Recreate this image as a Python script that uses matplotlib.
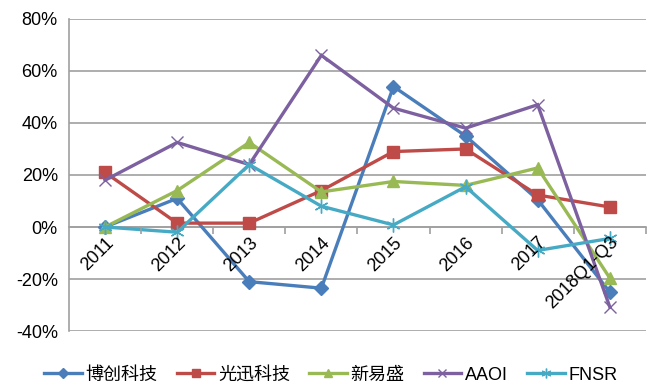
import matplotlib
matplotlib.use('Agg')
import matplotlib.pyplot as plt
from matplotlib.ticker import FixedLocator, FuncFormatter

plt.rcParams['font.family'] = ['Liberation Sans', 'Noto Sans CJK SC', 'DejaVu Sans']

categories = ['2011', '2012', '2013', '2014', '2015', '2016', '2017', '2018Q1-Q3']
bochuang = [0.0, 11.0, -21.0, -23.5, 54.0, 35.0, 10.5, -25.0]
guangxun = [21.0, 1.5, 1.5, 14.0, 29.0, 30.0, 12.3, 7.7]
xinyisheng = [0.0, 14.0, 32.5, 13.5, 17.5, 16.0, 22.7, -19.6]
aaoi = [18.0, 32.5, 24.0, 66.0, 45.7, 38.0, 47.0, -30.7]
fnsr = [0.0, -2.0, 24.0, 8.0, 0.8, 15.5, -9.0, -4.4]
yticks = [-40, -20, 0, 20, 40, 60, 80]

series = [
    ('博创科技', bochuang, '#4A7EBB', 'D', 7),
    ('光迅科技', guangxun, '#BE4B48', 's', 8.5),
    ('新易盛', xinyisheng, '#98B954', '^', 9),
    ('AAOI', aaoi, '#7D60A0', 'x', 9),
    ('FNSR', fnsr, '#46AAC5', (6, 2, 0), 10),
]

fig = plt.figure(figsize=(6.57, 3.85), dpi=100)
ax = fig.add_axes([0.105, 0.140, 0.878, 0.811])

x = list(range(len(categories)))
for name, vals, color, marker, ms in series:
    ax.plot(x, vals, color=color, lw=2.4, marker=marker, markersize=ms,
            markerfacecolor=color, markeredgecolor=color,
            markeredgewidth=1.0, label=name, solid_joinstyle='miter')

# gridlines drawn under the data, tick labels stay on top
for yv in yticks:
    ax.axhline(yv, color='#A0A0A0', lw=1.2, zorder=0.5)

ax.set_xlim(-0.5, len(categories) - 0.5)
ax.set_ylim(-40, 80)
ax.set_yticks(yticks)
ax.yaxis.set_major_formatter(FuncFormatter(lambda v, p: f'{v:.0f}%'))
ax.set_axisbelow(False)

ax.spines['top'].set_visible(False)
ax.spines['right'].set_visible(False)
ax.spines['left'].set_color('#A0A0A0')
ax.spines['left'].set_linewidth(1.2)
ax.spines['bottom'].set_position(('data', 0))
ax.spines['bottom'].set_color('#A0A0A0')
ax.spines['bottom'].set_linewidth(1.2)
ax.spines['bottom'].set_zorder(0.6)

ax.tick_params(axis='y', length=0, labelsize=13, pad=8)
ax.xaxis.set_major_locator(FixedLocator([i + 0.5 for i in range(len(categories))]))
ax.xaxis.set_major_formatter(FuncFormatter(lambda v, p: ''))
ax.tick_params(axis='x', which='major', length=5, color='#A0A0A0', width=1.2, direction='out')
ax.xaxis.set_minor_locator(FixedLocator(x))
ax.set_xticklabels(categories, minor=True)
ax.tick_params(axis='x', which='minor', length=0, labelsize=13, pad=5)
for lab in ax.get_xticklabels(minor=True):
    lab.set_rotation(45)
    lab.set_ha('right')
    lab.set_va('top')
    lab.set_rotation_mode('anchor')

ax.legend(loc='center', bbox_to_anchor=(0.454, -0.141), ncol=5, frameon=False,
          fontsize=13, handlelength=2.1, handletextpad=0.2, columnspacing=1.05,
          markerscale=0.7)

fig.savefig('out.png', dpi=100)
